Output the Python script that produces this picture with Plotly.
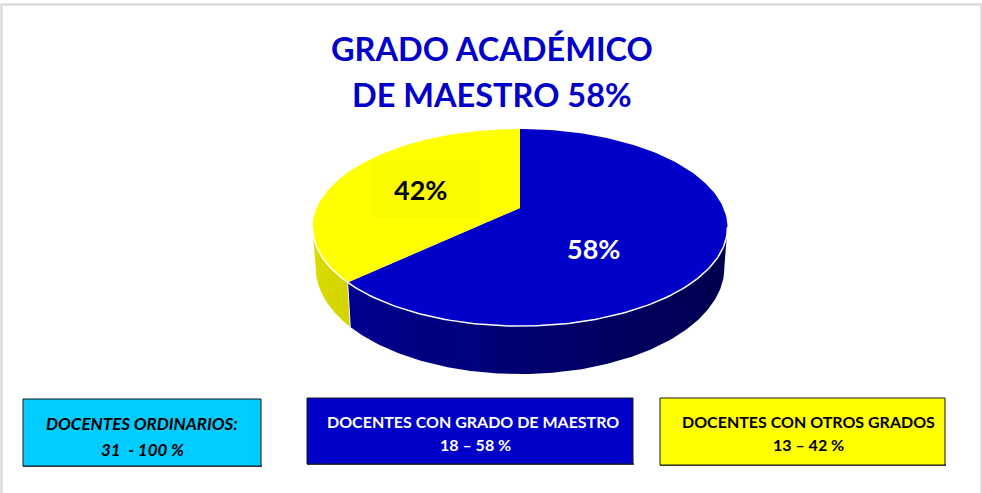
import numpy as np
import plotly.graph_objects as go

# Data
categories = ["DOCENTES CON GRADO DE MAESTRO", "DOCENTES CON OTROS GRADOS"]
slice_shares = [63.1, 36.9]          # drawn sweep of each slice
slice_labels = ["58%", "42%"]        # printed on the slices
title_lines = ["GRADO ACADÉMICO", "DE MAESTRO 58%"]
box_lines = [
    ["DOCENTES ORDINARIOS:", "31  - 100 %"],
    ["DOCENTES CON GRADO DE MAESTRO", "18 – 58 %"],
    ["DOCENTES CON OTROS GRADOS", "13 – 42 %"],
]

FONT = "Lato"
BLUE, YELLOW, CYAN = "#0000C8", "#FFFF00", "#00CCFF"

# Perspective projection of the pie disc on to the page
CX, CY, R, C, A, DEPTH, SHRINK = 520.0, 208.0, 203.4, 0.198, -53.5, 38.5, 0.985

def top(theta):
    u, v = np.sin(theta), np.cos(theta)
    w = 1 + C * v
    return CX + R * u / w, (A * v + CY) / w

def bottom(theta):
    x, y = top(theta)
    return CX + (x - CX) * SHRINK, y + DEPTH / (1 + C * np.cos(theta))

def arc(fn, a, b, n=160):
    return fn(np.linspace(a, b, n))

fracs = np.array(slice_shares) / sum(slice_shares)
split = 2 * np.pi * fracs[0]
full = 2 * np.pi

fig = go.Figure()

def side(a, b, start, stop, colors):
    xt, yt = arc(top, a, b)
    xb, yb = arc(bottom, a, b)
    fig.add_trace(go.Scatter(
        x=np.r_[xt, xb[::-1], xt[0]], y=np.r_[yt, yb[::-1], yt[0]],
        mode="lines", line=dict(width=0), fill="toself",
        fillgradient=dict(type="horizontal", start=start, stop=stop,
                          colorscale=[[0, colors[0]], [1, colors[1]]]),
        hoverinfo="skip", showlegend=False))

# side walls
side(np.radians(101), split, 350, 727, ("#00008F", "#00004E"))
side(split, np.radians(259), 312, 350, ("#DCDC00", "#D2D200"))

# top faces
for a, b, col, name in [(0, split, BLUE, categories[0]), (split, full, YELLOW, categories[1])]:
    x, y = arc(top, a, b)
    fig.add_trace(go.Scatter(
        x=np.r_[CX, x, CX], y=np.r_[CY, y, CY], mode="lines",
        line=dict(width=0), fill="toself", fillcolor=col,
        name=name, hoverinfo="name", showlegend=False))

# white front rim and seam
x, y = arc(top, np.radians(101), np.radians(259))
fig.add_trace(go.Scatter(x=x, y=y, mode="lines", line=dict(color="#FFFFFF", width=1.5),
                         hoverinfo="skip", showlegend=False))
xs, ys = top(split), bottom(split)
fig.add_trace(go.Scatter(x=[xs[0], ys[0]], y=[xs[1], ys[1]], mode="lines",
                         line=dict(color="#F4F4E0", width=1), hoverinfo="skip", showlegend=False))

# layout furniture
shapes = [
    dict(type="rect", x0=1.5, y0=4.5, x1=981.5, y1=520, line=dict(color="#DCDCDC", width=2.5), layer="below"),
    dict(type="rect", x0=372, y0=160, x1=480, y1=218, fillcolor="#FBFB00", line=dict(width=0)),
]
boxes = [(23, 399, 261, 466, CYAN),
         (307, 398, 633, 464, BLUE),
         (660, 398, 945, 465, YELLOW)]
for x0, y0, x1, y1, col in boxes:
    shapes.append(dict(type="rect", x0=x0, y0=y1 - 1, x1=x1 + 1, y1=y1 + 1,
                       fillcolor="#505050", line=dict(width=0)))
    shapes.append(dict(type="rect", x0=x0, y0=y0, x1=x1, y1=y1, fillcolor=col,
                       line=dict(color="#1A1A1A", width=1)))

ann = []
def text(x, y, s, size, color, bold=True, italic=False):
    t = s
    if bold:
        t = f"<b>{t}</b>"
    if italic:
        t = f"<i>{t}</i>"
    ann.append(dict(x=x, y=y, text=t, showarrow=False, xanchor="center", yanchor="middle",
                    font=dict(family=FONT, size=size, color=color)))

text(492, 48, title_lines[0], 32.5, BLUE)
text(492, 94, title_lines[1], 32.5, BLUE)
text(593, 248, slice_labels[0], 27, "#FFFFFF")
text(420, 189, slice_labels[1], 27, "#000000")
text(142, 423, box_lines[0][0], 17, "#000000", italic=True)
text(142, 449, box_lines[0][1], 17, "#000000", italic=True)
text(473, 421, box_lines[1][0], 16, "#FFFFFF")
text(475, 444, box_lines[1][1], 16, "#FFFFFF")
text(808, 421, box_lines[2][0], 16, "#000000")
text(808, 444, box_lines[2][1], 16, "#000000")

fig.update_layout(
    width=982, height=493, margin=dict(l=0, r=0, t=0, b=0),
    paper_bgcolor="#FFFFFF", plot_bgcolor="#FFFFFF",
    xaxis=dict(range=[0, 982], visible=False, fixedrange=True),
    yaxis=dict(range=[493, 0], visible=False, fixedrange=True),
    shapes=shapes, annotations=ann, showlegend=False,
)
fig.write_html("out.html", config=dict(displayModeBar=False),
               post_script="document.body.style.margin='0';document.body.style.overflow='hidden';")
